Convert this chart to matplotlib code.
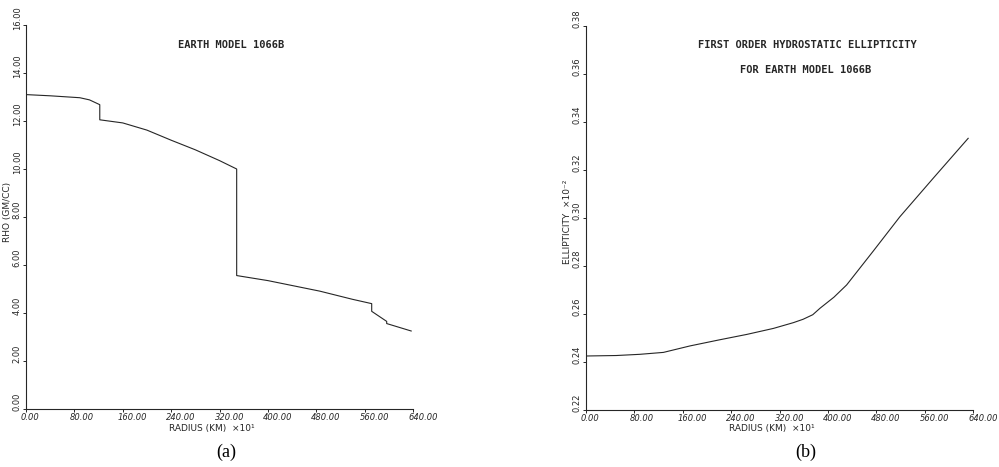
import matplotlib
matplotlib.use("Agg")
import matplotlib.pyplot as plt
from matplotlib.transforms import ScaledTranslation

# === DATOS ===
# radio en km x10
rho_r = [0, 40, 89, 105, 122, 122, 160, 200, 240, 280, 320, 348.4,
         348.4, 400, 486, 540, 571.7, 571.7, 596.5, 596.5, 637]
rho_val = [13.10, 13.05, 12.97, 12.88, 12.68, 12.05, 11.92, 11.62, 11.20, 10.80, 10.35, 10.00,
           5.56, 5.35, 4.91, 4.57, 4.39, 4.07, 3.65, 3.56, 3.25]

ell_r = [0, 50, 89, 128, 172, 220, 266, 310, 343, 359, 375, 387, 410, 431, 475, 519, 575, 632]
ell_val = [0.2425, 0.2427, 0.2432, 0.2440, 0.2467, 0.2492, 0.2515, 0.2540, 0.2564, 0.2578,
           0.2597, 0.2624, 0.2670, 0.2721, 0.2862, 0.3005, 0.3168, 0.3332]

x_ticks = [0, 80, 160, 240, 320, 400, 480, 560, 640]
rho_ticks = [0, 2, 4, 6, 8, 10, 12, 14, 16]
ell_ticks = [0.22, 0.24, 0.26, 0.28, 0.30, 0.32, 0.34, 0.36, 0.38]

INK = '#262626'
W, H = 999, 467

fig = plt.figure(figsize=(W / 100, H / 100), dpi=100, facecolor='white')

def px_axes(x0, y_top, x1, y_bot):
    return fig.add_axes([x0 / W, 1 - y_bot / H, (x1 - x0) / W, (y_bot - y_top) / H])

def px_text(x, y, s, **kw):
    kw.setdefault('ha', 'center'); kw.setdefault('va', 'center'); kw.setdefault('color', INK)
    return fig.text(x / W, 1 - y / H, s, **kw)

def style_axes(ax, xlim, ylim, yticks, yfmt):
    ax.set_xlim(*xlim); ax.set_ylim(*ylim)
    for s in ['top', 'right']:
        ax.spines[s].set_visible(False)
    for s in ['left', 'bottom']:
        ax.spines[s].set_color(INK); ax.spines[s].set_linewidth(0.8)
    ax.set_xticks(x_ticks)
    ax.set_xticklabels([f"{v:.2f}" for v in x_ticks], fontsize=6, style='italic', ha='left')
    ax.set_yticks(yticks)
    ax.set_yticklabels([yfmt.format(v) for v in yticks], fontsize=6, rotation=90, va='center')
    ax.tick_params(axis='both', direction='out', length=2, width=0.7, color=INK, labelcolor=INK, pad=1)
    for lab in ax.get_xticklabels():
        lab.set_transform(lab.get_transform() + ScaledTranslation(-0.05, 0, fig.dpi_scale_trans))
    for lab in ax.get_yticklabels():
        lab.set_transform(lab.get_transform() + ScaledTranslation(0, 0.07, fig.dpi_scale_trans))

TITLE = dict(fontsize=7.5, fontweight='bold', family='DejaVu Sans Mono')

# === (a) DENSIDAD ===
ax1 = px_axes(26, 25, 413, 409)
style_axes(ax1, (0, 640), (0, 16), rho_ticks, "{:.2f}")
ax1.plot(rho_r, rho_val, color=INK, lw=0.8)
px_text(231, 45, "EARTH MODEL 1066B", **TITLE)
px_text(8, 212, "RHO (GM/CC)", rotation=90, fontsize=6.5)
px_text(212, 428, "RADIUS (KM)  ×10¹", fontsize=6.5)
px_text(226, 452, "(a)", fontsize=13, family='Liberation Serif', color='black')

# === (b) ELIPTICIDAD ===
ax2 = px_axes(586, 26, 973, 410)
style_axes(ax2, (0, 640), (0.22, 0.38), ell_ticks, "{:.2f}")
ax2.plot(ell_r, ell_val, color=INK, lw=0.8)
px_text(807, 45, "FIRST ORDER HYDROSTATIC ELLIPTICITY", **TITLE)
px_text(806, 70, "FOR EARTH MODEL 1066B", **TITLE)
px_text(567, 222, "ELLIPTICITY  ×10⁻²", rotation=90, fontsize=6.5)
px_text(772, 428, "RADIUS (KM)  ×10¹", fontsize=6.5)
px_text(806, 452, "(b)", fontsize=13, family='Liberation Serif', color='black')

plt.savefig("out.png", dpi=100, facecolor='white')
plt.close()
